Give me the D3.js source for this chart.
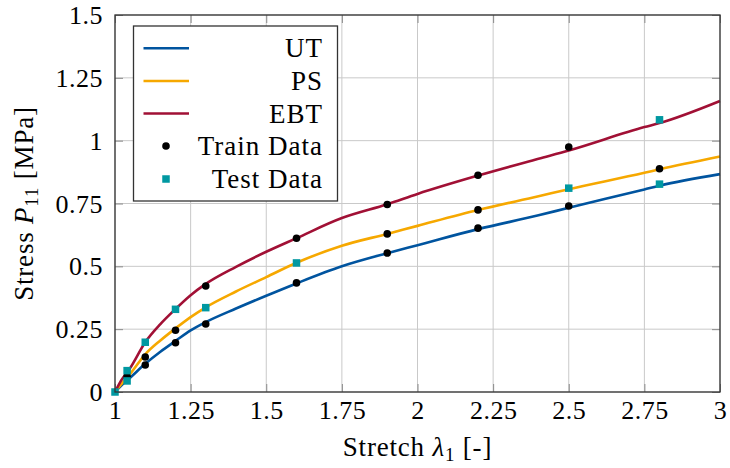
<!DOCTYPE html>
<html>
<head>
<meta charset="utf-8">
<script src="https://cdn.jsdelivr.net/npm/d3@7"></script>
<style>
  html, body { margin: 0; padding: 0; background: #fff; }
</style>
</head>
<body>
<svg id="chart" width="730" height="468"></svg>
<script>
// ---------- data ----------
const curveStretch = [1, 1.02, 1.05, 1.1, 1.15, 1.2, 1.25, 1.3, 1.4, 1.5, 1.6, 1.75, 1.9, 2.0, 2.2, 2.4, 2.5, 2.75, 2.8, 3.0];
const utModel  = [0, 0.025, 0.057, 0.112, 0.16, 0.203, 0.245, 0.278, 0.332, 0.383, 0.432, 0.5, 0.552, 0.584, 0.648, 0.703, 0.733, 0.806, 0.821, 0.867];
const psModel  = [0, 0.03, 0.072, 0.15, 0.205, 0.253, 0.298, 0.337, 0.4, 0.457, 0.514, 0.582, 0.629, 0.661, 0.724, 0.779, 0.807, 0.872, 0.886, 0.937];
const ebtModel = [0, 0.045, 0.095, 0.198, 0.27, 0.33, 0.385, 0.43, 0.498, 0.558, 0.612, 0.692, 0.747, 0.788, 0.861, 0.928, 0.961, 1.054, 1.07, 1.158];

const trainStretch = [1.04, 1.1, 1.1, 1.2, 1.2, 1.3, 1.3, 1.6, 1.6, 1.9, 1.9, 1.9, 2.2, 2.2, 2.2, 2.5, 2.5, 2.8];
const trainStress  = [0.061, 0.139, 0.1075, 0.2455, 0.196, 0.422, 0.2707, 0.612, 0.434, 0.553, 0.629, 0.746, 0.652, 0.7245, 0.8626, 0.740, 0.975, 0.888];

const testStretch = [1.0, 1.04, 1.04, 1.1, 1.2, 1.3, 1.6, 2.5, 2.8, 2.8];
const testStress  = [0, 0.044, 0.085, 0.198, 0.329, 0.3356, 0.5135, 0.811, 0.827, 1.083];

const xTicks = [1, 1.25, 1.5, 1.75, 2, 2.25, 2.5, 2.75, 3];
const xTickLabels = ["1", "1.25", "1.5", "1.75", "2", "2.25", "2.5", "2.75", "3"];
const yTicks = [0, 0.25, 0.5, 0.75, 1, 1.25, 1.5];
const yTickLabels = ["0", "0.25", "0.5", "0.75", "1", "1.25", "1.5"];

const seriesNames = ["UT", "PS", "EBT"];
const seriesColors = ["#00549F", "#F6A800", "#A11035"];
const testColor = "#0098A1";

// ---------- layout ----------
const FONT = '"Liberation Serif"';
const svg = d3.select("#chart");
const L = 115, R = 720, T = 15, B = 392;
const x = d3.scaleLinear().domain([1, 3]).range([L, R]);
const y = d3.scaleLinear().domain([0, 1.5]).range([B, T]);

// grid
const grid = svg.append("g");
grid.selectAll("line.gx").data(xTicks).join("line")
  .attr("x1", d => x(d)).attr("x2", d => x(d)).attr("y1", T).attr("y2", B)
  .attr("stroke", "#c9c9c9").attr("stroke-width", 1);
grid.selectAll("line.gy").data(yTicks).join("line")
  .attr("y1", d => y(d)).attr("y2", d => y(d)).attr("x1", L).attr("x2", R)
  .attr("stroke", "#c9c9c9").attr("stroke-width", 1);

// axes with inward ticks on all sides
const tickLen = 8;
const axB = svg.append("g").attr("transform", `translate(0,${B})`)
  .call(d3.axisBottom(x).tickValues(xTicks).tickFormat((d, i) => xTickLabels[i]).tickSize(-tickLen));
const axT = svg.append("g").attr("transform", `translate(0,${T})`)
  .call(d3.axisTop(x).tickValues(xTicks).tickFormat("").tickSize(-tickLen));
const axL = svg.append("g").attr("transform", `translate(${L},0)`)
  .call(d3.axisLeft(y).tickValues(yTicks).tickFormat((d, i) => yTickLabels[i]).tickSize(-tickLen));
const axR = svg.append("g").attr("transform", `translate(${R},0)`)
  .call(d3.axisRight(y).tickValues(yTicks).tickFormat("").tickSize(-tickLen));
[axB, axT, axL, axR].forEach(a => {
  a.attr("font-family", null);
  a.select(".domain").remove();
  a.selectAll(".tick line").attr("stroke", "#8a8a8a").attr("stroke-width", 1);
  a.selectAll(".tick text").style("font-family", FONT).style("font-size", "26px")
    .style("letter-spacing", "0.5px").attr("fill", "#000");
});
axB.selectAll(".tick text").attr("dy", null).attr("y", 27);
axL.selectAll(".tick text").attr("dy", "0.33em").attr("x", -12);

// curves
const lineGen = d3.line().x(d => x(d[0])).y(d => y(d[1])).curve(d3.curveMonotoneX);
const models = [utModel, psModel, ebtModel];
const plot = svg.append("g");
models.forEach((m, i) => {
  plot.append("path")
    .datum(curveStretch.map((s, k) => [s, m[k]]))
    .attr("d", lineGen)
    .attr("fill", "none")
    .attr("stroke", seriesColors[i])
    .attr("stroke-width", 2.6);
});

// train points
plot.selectAll("circle.train").data(trainStretch.map((s, k) => [s, trainStress[k]])).join("circle")
  .attr("cx", d => x(d[0])).attr("cy", d => y(d[1])).attr("r", 3.8).attr("fill", "#000");

// test points
const sq = 7.5;
plot.selectAll("rect.test").data(testStretch.map((s, k) => [s, testStress[k]])).join("rect")
  .attr("x", d => x(d[0]) - sq / 2).attr("y", d => y(d[1]) - sq / 2)
  .attr("width", sq).attr("height", sq).attr("fill", testColor);

// frame
svg.append("rect").attr("x", L).attr("y", T).attr("width", R - L).attr("height", B - T)
  .attr("fill", "none").attr("stroke", "#333").attr("stroke-width", 1.3);

// axis labels
const xl = svg.append("text").attr("x", (L + R) / 2).attr("y", 456).attr("text-anchor", "middle")
  .style("font-family", FONT).style("font-size", "27px").style("letter-spacing", "0.8px");
xl.append("tspan").text("Stretch ");
xl.append("tspan").style("font-style", "italic").text("λ");
xl.append("tspan").style("font-size", "19px").attr("dy", 5).text("1");
xl.append("tspan").attr("dy", -5).text(" [-]");

const yl = svg.append("text").attr("transform", `translate(33,${(T + B) / 2}) rotate(-90)`).attr("text-anchor", "middle")
  .style("font-family", FONT).style("font-size", "27px").style("letter-spacing", "0.8px");
yl.append("tspan").text("Stress ");
yl.append("tspan").style("font-style", "italic").text("P");
yl.append("tspan").style("font-size", "19px").attr("dy", 5).text("11");
yl.append("tspan").attr("dy", -5).text(" [MPa]");

// legend
const lg = svg.append("g");
lg.append("rect").attr("x", 133.5).attr("y", 26).attr("width", 204).attr("height", 175)
  .attr("fill", "#fff").attr("stroke", "#333").attr("stroke-width", 1.3);
const legendLabels = seriesNames.concat(["Train Data", "Test Data"]);
const rowY = [48.3, 81, 113.5, 146, 179];
legendLabels.forEach((lab, i) => {
  const cy = rowY[i];
  if (i < 3) {
    lg.append("line").attr("x1", 143.5).attr("x2", 189).attr("y1", cy).attr("y2", cy)
      .attr("stroke", seriesColors[i]).attr("stroke-width", 2.6);
  } else if (i === 3) {
    lg.append("circle").attr("cx", 166).attr("cy", cy).attr("r", 3.8).attr("fill", "#000");
  } else {
    lg.append("rect").attr("x", 166 - sq / 2).attr("y", cy - sq / 2).attr("width", sq).attr("height", sq).attr("fill", testColor);
  }
  lg.append("text").attr("x", 323).attr("y", cy + 9).attr("text-anchor", "end")
    .style("font-family", FONT).style("font-size", "27px").style("letter-spacing", "1px").text(lab);
});
</script>
</body>
</html>
